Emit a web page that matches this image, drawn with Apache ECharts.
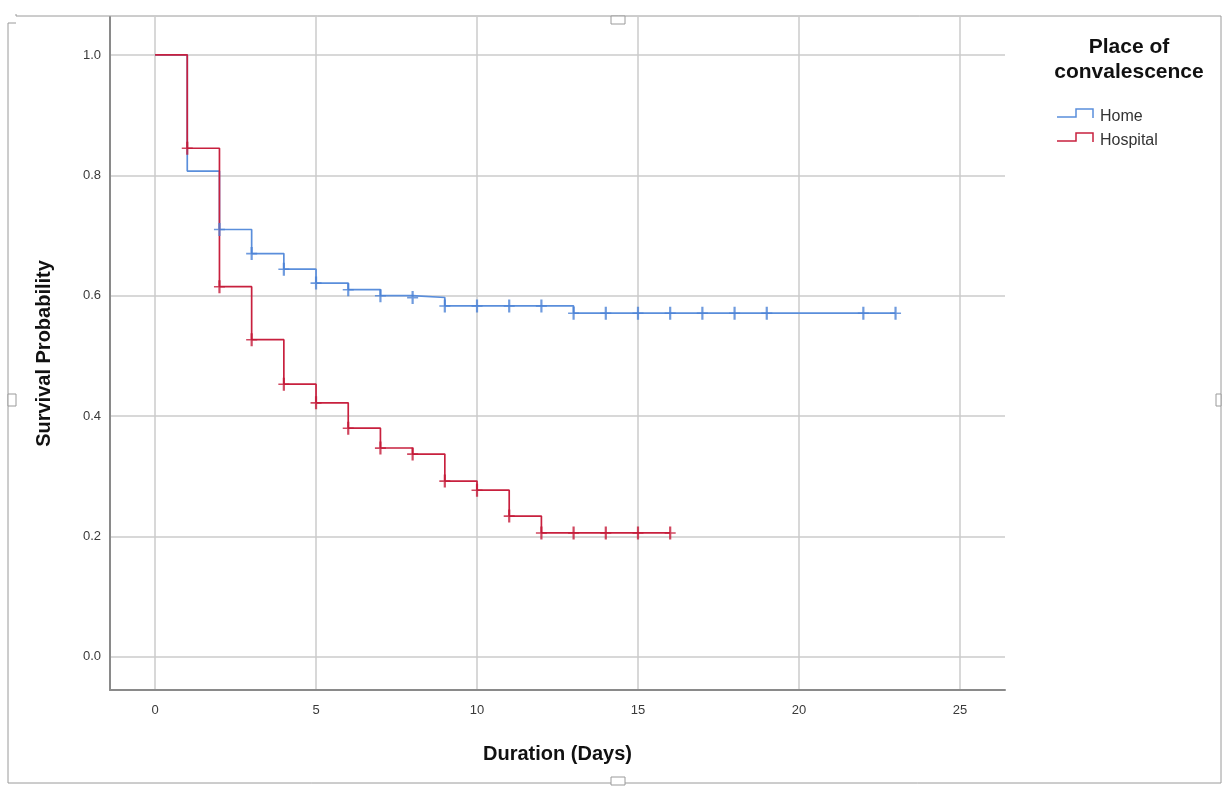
<!DOCTYPE html>
<html>
<head>
<meta charset="utf-8">
<script src="https://cdn.jsdelivr.net/npm/echarts@6/dist/echarts.min.js"></script>
<style>
  html, body { margin: 0; padding: 0; background: #fff; }
  #chart { width: 1224px; height: 788px; }
</style>
</head>
<body>
<div id="chart"></div>
<script>
// Kaplan-Meier steps
const homeTime = [0, 1, 2, 3, 4, 5, 6, 7, 8, 9, 13, 23];
const homeSurv = [1.0, 0.807, 0.710, 0.670, 0.644, 0.621, 0.610, 0.600, 0.597, 0.583, 0.571, 0.571];
const homeCensored = [2, 3, 4, 5, 6, 7, 8, 9, 10, 11, 12, 13, 14, 15, 16, 17, 18, 19, 22, 23];

const hospTime = [0, 1, 2, 3, 4, 5, 6, 7, 8, 9, 10, 11, 12, 16];
const hospSurv = [1.0, 0.845, 0.615, 0.527, 0.453, 0.422, 0.380, 0.347, 0.337, 0.292, 0.277, 0.234, 0.206, 0.206];
const hospCensored = [1, 2, 3, 4, 5, 6, 7, 8, 9, 10, 11, 12, 13, 14, 15, 16];

const xTicks = [0, 5, 10, 15, 20, 25];
const yTicks = [0, 0.2, 0.4, 0.6, 0.8, 1.0];

const BLUE = "#5a8edb";
const RED = "#c8203e";
const FONT = "Liberation Sans, Arial, sans-serif";

// survival value in effect at time t
function survAt(times, surv, t) {
  let v = surv[0];
  for (let i = 0; i < times.length; i++) {
    if (times[i] <= t) v = surv[i];
  }
  return v;
}

const zip = (a, b) => a.map((v, i) => [v, b[i]]);
const censorPts = (c, times, surv) => c.map((t) => [t, survAt(times, surv, t)]);

// censor tick "+", drawn as a filled shape
const PLUS = "path://M4,0h2v5.3h4v1.5h-4v5.2h-2v-5.2h-4v-1.5h4z";

const chart = echarts.init(document.getElementById("chart"), null, { renderer: "canvas" });

chart.setOption({
  backgroundColor: "#fff",
  animation: false,
  textStyle: { fontFamily: FONT },
  grid: { left: 110, right: 219, top: 17, bottom: 98, containLabel: false },
  xAxis: {
    type: "value",
    min: -1.4,
    max: 26.4,
    name: "Duration (Days)",
    nameLocation: "middle",
    nameGap: 54,
    nameTextStyle: { fontSize: 20, fontWeight: "bold", color: "#111", fontFamily: FONT },
    axisLine: { show: true, onZero: false, lineStyle: { color: "#8a8a8a", width: 2 } },
    axisTick: { show: false, customValues: xTicks },
    axisLabel: { customValues: xTicks, color: "#3a3a3a", fontSize: 13, margin: 14, fontFamily: FONT },
    splitLine: { show: true, lineStyle: { color: "#cbcbcb", width: 1.5 } },
  },
  yAxis: {
    type: "value",
    min: -0.055,
    max: 1.063,
    name: "Survival Probability",
    nameLocation: "middle",
    nameGap: 56,
    nameRotate: 90,
    nameTextStyle: { fontSize: 20, fontWeight: "bold", color: "#111", fontFamily: FONT },
    axisLine: { show: true, onZero: false, lineStyle: { color: "#8a8a8a", width: 2 } },
    axisTick: { show: false, customValues: yTicks },
    axisLabel: {
      customValues: yTicks,
      color: "#3a3a3a",
      fontSize: 13,
      margin: 9,
      fontFamily: FONT,
      formatter: (v) => v.toFixed(1),
    },
    splitLine: { show: true, lineStyle: { color: "#cbcbcb", width: 1.5 } },
  },
  series: [
    {
      name: "Home",
      type: "line",
      step: "end",
      data: zip(homeTime, homeSurv),
      showSymbol: false,
      lineStyle: { color: BLUE, width: 1.7 },
      z: 3,
    },
    {
      name: "Hospital",
      type: "line",
      step: "end",
      data: zip(hospTime, hospSurv),
      showSymbol: false,
      lineStyle: { color: RED, width: 1.7 },
      z: 3,
    },
    {
      name: "Home censored",
      type: "scatter",
      data: censorPts(homeCensored, homeTime, homeSurv),
      symbol: PLUS,
      symbolSize: [11, 13],
      itemStyle: { color: "#4b82d6" },
      z: 4,
    },
    {
      name: "Hospital censored",
      type: "scatter",
      data: censorPts(hospCensored, hospTime, hospSurv),
      symbol: PLUS,
      symbolSize: [11, 13],
      itemStyle: { color: "#c41a38" },
      z: 4,
    },
  ],
  graphic: [
    // editor frame around the chart
    {
      type: "polyline",
      shape: { points: [[16, 14], [16, 16], [1221, 16], [1221, 783], [8, 783], [8, 23], [16, 23]] },
      style: { stroke: "#9a9a9a", lineWidth: 1, fill: null },
      silent: true,
    },
    { type: "rect", shape: { x: 611, y: 16, width: 14, height: 8 }, style: { stroke: "#9a9a9a", fill: "#fff", lineWidth: 1 }, silent: true },
    { type: "rect", shape: { x: 611, y: 777, width: 14, height: 8 }, style: { stroke: "#9a9a9a", fill: "#fff", lineWidth: 1 }, silent: true },
    { type: "rect", shape: { x: 8, y: 394, width: 8, height: 12 }, style: { stroke: "#9a9a9a", fill: "#fff", lineWidth: 1 }, silent: true },
    { type: "rect", shape: { x: 1216, y: 394, width: 5, height: 12 }, style: { stroke: "#9a9a9a", fill: "#fff", lineWidth: 1 }, silent: true },
    // legend
    {
      type: "text",
      x: 1129,
      y: 35,
      style: {
        text: "Place of\nconvalescence",
        font: "bold 21px " + FONT,
        fill: "#111",
        align: "center",
        lineHeight: 25,
      },
    },
    {
      type: "polyline",
      shape: { points: [[1057, 117], [1076, 117], [1076, 109], [1093, 109], [1093, 118]] },
      style: { stroke: BLUE, lineWidth: 1.5, fill: null },
    },
    {
      type: "text",
      x: 1100,
      y: 117,
      style: { text: "Home", font: "16px " + FONT, fill: "#333", verticalAlign: "middle" },
    },
    {
      type: "polyline",
      shape: { points: [[1057, 141], [1076, 141], [1076, 133], [1093, 133], [1093, 142]] },
      style: { stroke: RED, lineWidth: 1.5, fill: null },
    },
    {
      type: "text",
      x: 1100,
      y: 141,
      style: { text: "Hospital", font: "16px " + FONT, fill: "#333", verticalAlign: "middle" },
    },
  ],
});

window.addEventListener("resize", () => chart.resize());
</script>
</body>
</html>
